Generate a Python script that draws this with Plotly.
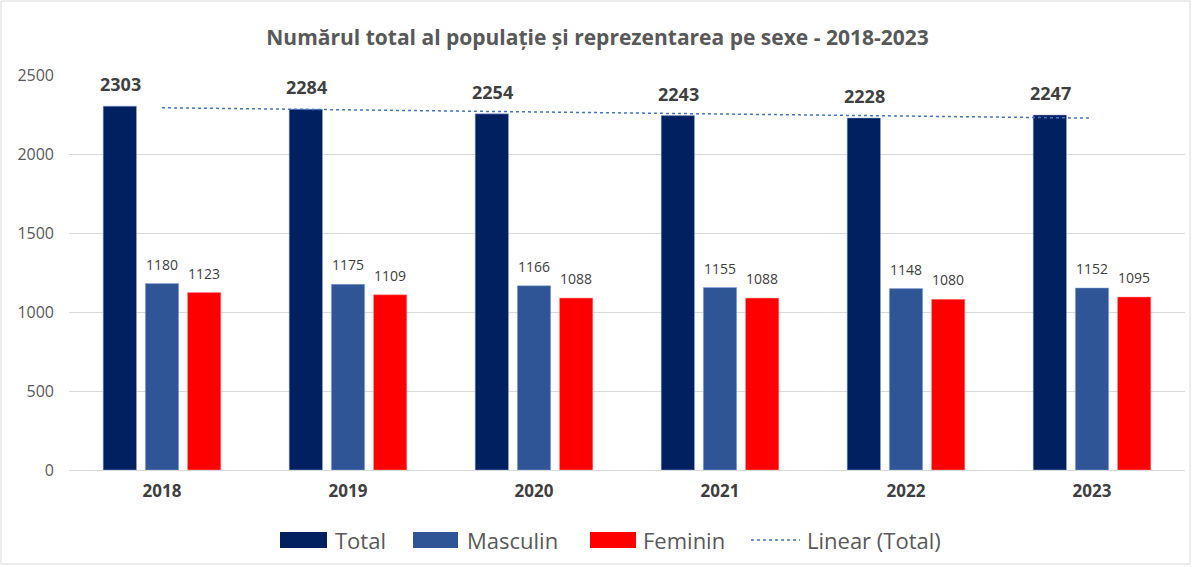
import numpy as np
import plotly.graph_objects as go

years = ["2018", "2019", "2020", "2021", "2022", "2023"]
total = [2303, 2284, 2254, 2243, 2228, 2247]
masculin = [1180, 1175, 1166, 1155, 1148, 1152]
feminin = [1123, 1109, 1088, 1088, 1080, 1095]

title_text = "Numărul total al populație și reprezentarea pe sexe - 2018-2023"
legend_names = ["Total", "Masculin", "Feminin", "Linear (Total)"]

C_TOTAL = "#002060"
C_MASC = "#2F5597"
C_FEM = "#FF0000"
C_TREND = "#4472C4"
FONT = "Open Sans"

# Linear trendline of Total (Excel style, x = 1..n)
xi = np.arange(1, len(total) + 1)
slope, intercept = np.polyfit(xi, total, 1)
trend = slope * xi + intercept

fig = go.Figure()
fig.add_trace(go.Bar(x=years, y=total, name="Total", marker_color=C_TOTAL,
                     marker_line=dict(color="#8FAADC", width=0.5)))
fig.add_trace(go.Bar(x=years, y=masculin, name="Masculin", marker_color=C_MASC,
                     marker_line=dict(color="#8FAADC", width=0.5)))
fig.add_trace(go.Bar(x=years, y=feminin, name="Feminin", marker_color=C_FEM,
                     marker_line=dict(color="#FF9999", width=0.5)))
fig.add_trace(go.Scatter(x=years, y=trend, mode="lines", name="Linear (Total)",
                         line=dict(color=C_TREND, width=1.5, dash="dot"),
                         hoverinfo="skip"))

W, H = 1195, 567
ml, mr, mt, mb = 69, 10, 75, 97
pw, ph = W - ml - mr, H - mt - mb

def px_x(p):
    return (p - ml) / pw

def px_y(p):
    return (H - mb - p) / ph

shapes = []
annotations = []

# data labels (values from the data, offset to each bar of the group)
SLOT = 42  # px between bar centres within a group
for vals, dx, size, bold in [(total, -SLOT, 18, True),
                             (masculin, 0, 14, False),
                             (feminin, SLOT, 14, False)]:
    for i, v in enumerate(vals):
        annotations.append(dict(x=i, y=v, xref="x", yref="y", text=str(v),
                                showarrow=False, xshift=dx, yshift=8,
                                yanchor="bottom", xanchor="center",
                                font=dict(family=FONT, size=size, color="#404040",
                                          weight="bold" if bold else "normal")))

# outer chart border
shapes.append(dict(type="rect", xref="paper", yref="paper",
                   x0=px_x(1), x1=px_x(W - 5), y0=px_y(H - 3), y1=px_y(1),
                   line=dict(color="#D9D9D9", width=1), fillcolor="rgba(0,0,0,0)",
                   layer="below"))

# custom legend
leg_items = [
    (280, 327, 333, legend_names[0], C_TOTAL, "rect"),
    (413, 458, 465, legend_names[1], C_MASC, "rect"),
    (590, 636, 641, legend_names[2], C_FEM, "rect"),
    (751, 800, 805, legend_names[3], C_TREND, "line"),
]
ly0, ly1 = 532, 548
for x0, x1, tx, name, col, kind in leg_items:
    if kind == "rect":
        shapes.append(dict(type="rect", xref="paper", yref="paper",
                           x0=px_x(x0), x1=px_x(x1), y0=px_y(ly1), y1=px_y(ly0),
                           fillcolor=col, line=dict(width=0)))
    else:
        shapes.append(dict(type="line", xref="paper", yref="paper",
                           x0=px_x(x0), x1=px_x(x1), y0=px_y(540), y1=px_y(540),
                           line=dict(color=col, width=1.5, dash="dot")))
    annotations.append(dict(xref="paper", yref="paper", x=px_x(tx), y=px_y(540),
                            xanchor="left", yanchor="middle", showarrow=False,
                            text=name, font=dict(family=FONT, size=22, color="#595959")))

fig.update_layout(
    width=W, height=H,
    margin=dict(l=ml, r=mr, t=mt, b=mb),
    paper_bgcolor="white", plot_bgcolor="white",
    barmode="group", bargap=0.32, bargroupgap=0.21,
    showlegend=False,
    title=dict(text=title_text, x=0.5, xref="container", xanchor="center",
               y=1 - 38 / H, yanchor="middle",
               font=dict(family=FONT, size=21, color="#595959", weight="bold")),
    xaxis=dict(type="category", range=[-0.5, len(years) - 0.5],
               showgrid=False, showline=True,
               linecolor="#D9D9D9", ticks="", ticklabelstandoff=6,
               tickfont=dict(family=FONT, size=17, color="#404040", weight="bold")),
    yaxis=dict(range=[0, 2500], dtick=500, showgrid=True, gridcolor="#D9D9D9",
               zeroline=False, showline=False, ticks="", ticklabelstandoff=14,
               tickfont=dict(family=FONT, size=16, color="#595959")),
    shapes=shapes, annotations=annotations,
)

fig.write_html("out.html", config={"displayModeBar": False},
               post_script="document.body.style.margin='0';")
